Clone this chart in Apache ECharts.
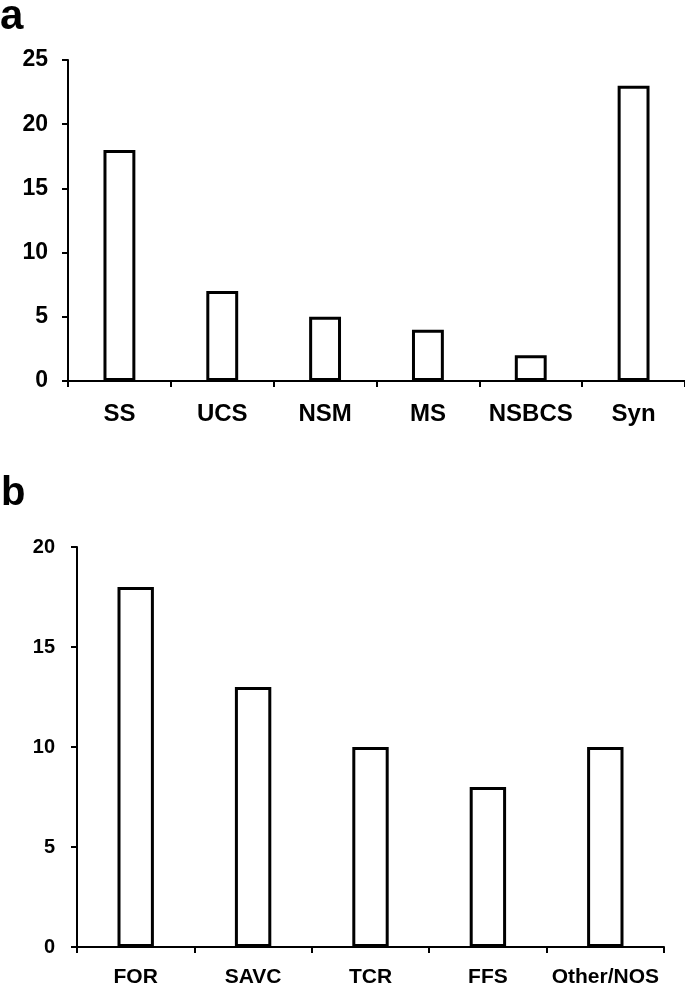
<!DOCTYPE html>
<html>
<head>
<meta charset="utf-8">
<script src="https://cdn.jsdelivr.net/npm/echarts@6/dist/echarts.min.js"></script>
<style>
html,body{margin:0;padding:0;background:#fff;}
#c{width:685px;height:984px;}
</style>
</head>
<body>
<div id="c"></div>
<script>
const catsA = ['SS', 'UCS', 'NSM', 'MS', 'NSBCS', 'Syn'];
const valsA = [18, 7, 5, 4, 2, 23];
const catsB = ['FOR', 'SAVC', 'TCR', 'FFS', 'Other/NOS'];
const valsB = [18, 13, 10, 8, 10];
const ticksA = { min: 0, max: 25, interval: 5 };
const ticksB = { min: 0, max: 20, interval: 5 };

const FONT = '"Liberation Sans", Arial, sans-serif';
const chart = echarts.init(document.getElementById('c'), null, { renderer: 'canvas' });

function xAxis(idx, cats, fs, margin) {
  return {
    type: 'category', gridIndex: idx, data: cats,
    axisLine: { show: true, lineStyle: { color: '#000', width: 2 } },
    axisTick: { show: true, length: 6, lineStyle: { color: '#000', width: 2 } },
    axisLabel: { color: '#000', fontFamily: FONT, fontWeight: 'bold', fontSize: fs, margin: margin, interval: 0 },
    splitLine: { show: false }
  };
}
function yAxis(idx, t, fs, margin) {
  return {
    type: 'value', gridIndex: idx, min: t.min, max: t.max, interval: t.interval,
    axisLine: { show: true, lineStyle: { color: '#000', width: 2 } },
    axisTick: { show: true, length: 6, lineStyle: { color: '#000', width: 2 } },
    axisLabel: { color: '#000', fontFamily: FONT, fontWeight: 'bold', fontSize: fs, margin: margin },
    splitLine: { show: false }
  };
}

chart.setOption({
  animation: false,
  backgroundColor: '#fff',
  title: [
    { text: 'a', left: 0, top: -4, padding: 0, textStyle: { fontFamily: FONT, fontWeight: 'bold', fontSize: 42, color: '#000' } },
    { text: 'b', left: 1, top: 474, padding: 0, textStyle: { fontFamily: FONT, fontWeight: 'bold', fontSize: 40, color: '#000' } }
  ],
  grid: [
    { left: 68, top: 60, width: 617, height: 321, outerBoundsMode: 'none', containLabel: false },
    { left: 77, top: 547, width: 587, height: 400, outerBoundsMode: 'none', containLabel: false }
  ],
  xAxis: [xAxis(0, catsA, 24, 21), xAxis(1, catsB, 21, 20)],
  yAxis: [yAxis(0, ticksA, 23, 20), yAxis(1, ticksB, 20, 22)],
  series: [
    { type: 'bar', xAxisIndex: 0, yAxisIndex: 0, data: valsA, barWidth: '31%',
      itemStyle: { color: '#fff', borderColor: '#000', borderWidth: 3 } },
    { type: 'bar', xAxisIndex: 1, yAxisIndex: 1, data: valsB, barWidth: '31%',
      itemStyle: { color: '#fff', borderColor: '#000', borderWidth: 3 } }
  ]
});
</script>
</body>
</html>
